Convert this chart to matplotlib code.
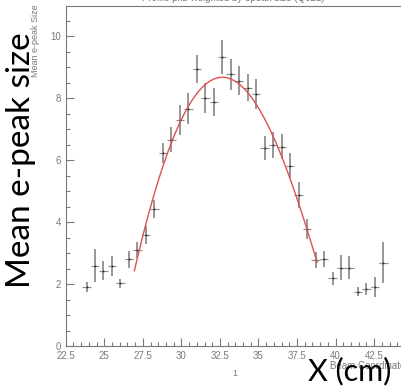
from __future__ import annotations

# --- third-party ---
import matplotlib

matplotlib.use("Agg")
import matplotlib.pyplot as plt
import matplotlib.ticker as mtick
import numpy as np

# ---------------------------
# Data
# ---------------------------
x_centers = [
    23.85, 24.40, 24.95, 25.50, 26.05, 26.60, 27.15, 27.70, 28.25, 28.80,
    29.35, 29.90, 30.45, 31.00, 31.55, 32.10, 32.65, 33.20, 33.75, 34.30,
    34.85, 35.40, 35.95, 36.50, 37.05, 37.60, 38.15, 38.70, 39.25, 39.80,
    40.35, 40.90, 41.45, 42.00, 42.55, 43.10,
]
mean_size = [
    1.91, 2.59, 2.43, 2.59, 2.02, 2.80, 3.10, 3.58, 4.42, 6.24,
    6.65, 7.29, 7.65, 8.94, 7.99, 7.88, 9.33, 8.76, 8.56, 8.34,
    8.13, 6.38, 6.48, 6.43, 5.82, 4.87, 3.77, 2.77, 2.81, 2.18,
    2.53, 2.53, 1.75, 1.83, 1.91, 2.69,
]
size_err = [
    0.16, 0.54, 0.30, 0.32, 0.15, 0.27, 0.25, 0.30, 0.30, 0.32,
    0.40, 0.48, 0.50, 0.45, 0.48, 0.45, 0.54, 0.50, 0.46, 0.44,
    0.47, 0.38, 0.43, 0.40, 0.40, 0.43, 0.32, 0.25, 0.25, 0.20,
    0.39, 0.37, 0.15, 0.20, 0.32, 0.65,
]
half_bin = 0.275
fit_range = (26.95, 38.8)

x_ticks = [22.5, 25, 27.5, 30, 32.5, 35, 37.5, 40, 42.5]
y_ticks = [0, 2, 4, 6, 8, 10]

GREY = "#7a7a7a"
ROOT_FONT = "Liberation Sans"
SLIDE_FONT = "Lato"


def _fit_curve(x, y, err, lo, hi, deg=4):
    # weighted polynomial fit inside the fit window, like the ROOT fit
    x = np.asarray(x)
    y = np.asarray(y)
    w = 1.0 / np.asarray(err)
    m = (x >= lo) & (x <= hi)
    coef = np.polyfit(x[m], y[m], deg, w=w[m])
    xs = np.linspace(lo, hi, 200)
    return xs, np.polyval(coef, xs)


# ---------------------------
# Plot
# ---------------------------
W, H = 402, 391
fig = plt.figure(figsize=(W / 100, H / 100), dpi=100)
ax = fig.add_axes([65.7 / W, 1 - 346 / H, 347 / W, 340 / H])

ax.errorbar(
    x_centers, mean_size, yerr=size_err, fmt="none",
    ecolor=GREY, elinewidth=1.1, capsize=0,
)
ax.errorbar(
    x_centers, mean_size, xerr=half_bin, fmt="none",
    ecolor="#8a8a8a", elinewidth=0.8, capsize=0, ls=":",
)
ax.plot(x_centers, mean_size, "s", ms=1.2, color="#222222", mew=0)

xs, ys = _fit_curve(x_centers, mean_size, size_err, *fit_range)
ax.plot(xs, ys, color="#e05050", lw=1.0)

ax.set_xlim(22.5, 45.0)
ax.set_ylim(0, 10.97)
ax.set_xticks(x_ticks)
ax.set_xticklabels([f"{v:g}" for v in x_ticks])
ax.set_yticks(y_ticks)
ax.xaxis.set_minor_locator(mtick.MultipleLocator(0.5))
ax.yaxis.set_minor_locator(mtick.MultipleLocator(0.5))
ax.tick_params(which="both", direction="in", colors=GREY, width=0.8,
               labelsize=7, labelcolor=GREY)
ax.tick_params(which="major", length=6)
ax.tick_params(which="minor", length=3)
for lab in ax.get_xticklabels() + ax.get_yticklabels():
    lab.set_family(ROOT_FONT)
for side in ("left", "bottom", "top", "right"):
    ax.spines[side].set_color(GREY)
    ax.spines[side].set_linewidth(0.8)

# ROOT texts (small, grey)
fig.text(233 / W, 1 + 2 / H, "Profile pxb weighted by epeak size (Q021)",
         ha="center", va="center", fontsize=7, color=GREY, family=ROOT_FONT)
fig.text(36 / W, 1 - 4 / H, "Mean e-peak Size", rotation=90,
         ha="center", va="top", fontsize=6.5, color=GREY, family=ROOT_FONT)
fig.text(330 / W, 1 - 366 / H, "Beam Coordinate", ha="left", va="center",
         fontsize=7, color=GREY, family=ROOT_FONT)
fig.text(235 / W, 1 - 374 / H, "1", ha="center", va="center",
         fontsize=6.5, color=GREY, family=ROOT_FONT)

# slide overlay labels
fig.text(21 / W, 1 - 160 / H, "Mean e-peak size", rotation=90,
         ha="center", va="center", fontsize=24, color="black",
         family=SLIDE_FONT)
fig.text(350 / W, 1 - 371 / H, "X (cm)", ha="center", va="center",
         fontsize=22, color="black", family=SLIDE_FONT)

fig.savefig("out.png", dpi=100)
plt.close(fig)
